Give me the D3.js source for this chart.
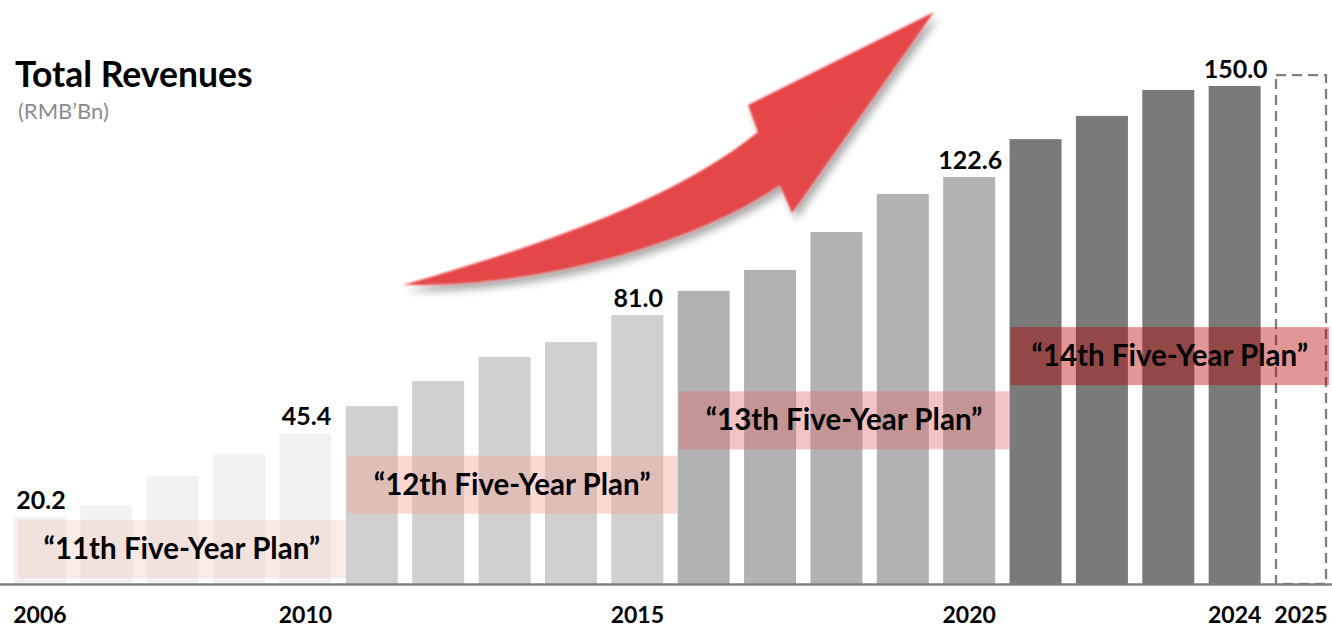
<!DOCTYPE html>
<html>
<head>
<meta charset="utf-8">
<script src="https://cdn.jsdelivr.net/npm/d3@7"></script>
<style>
  html, body { margin: 0; padding: 0; background: #ffffff; }
  svg { display: block; }
  text { font-family: Lato, "Open Sans", "DejaVu Sans", sans-serif; }
</style>
</head>
<body>
<svg id="chart" width="1332" height="635"></svg>
<script>
// Total revenues by year (RMB bn)
const years = ["2006","2007","2008","2009","2010","2011","2012","2013","2014","2015",
               "2016","2017","2018","2019","2020","2021","2022","2023","2024","2025"];
const revenues = [20.2, 23.8, 32.5, 39.2, 45.4, 53.6, 61.1, 68.4, 72.9, 81.0,
                  88.3, 94.6, 106.0, 117.5, 122.6, 134.0, 141.0, 148.8, 150.0];
const outlookYear = "2025";
const outlookValue = 153.3;
const labelledYears = ["2006","2010","2015","2020","2024"];
const tickYears = ["2006","2010","2015","2020","2024","2025"];

// Five-year plan periods
const planNames = ["“11th Five-Year Plan”","“12th Five-Year Plan”","“13th Five-Year Plan”","“14th Five-Year Plan”"];
const planFirstYear = ["2006","2011","2016","2021"];
const planLastYear = ["2010","2015","2020","2025"];
const barColors = ["#f2f2f2","#d0d0d0","#b2b2b2","#7a7a7a"];
const planColors = ["rgb(240,190,175)","rgb(245,168,152)","rgb(224,104,104)","rgb(187,0,0)"];
const planOpacity = [0.30, 0.43, 0.39, 0.41];

const W = 1332, H = 635;
const baseY = 584;
const svg = d3.select("#chart");

const x = d3.scaleBand().domain(years).range([6.8, 1334.2]).paddingInner(0.2165).paddingOuter(0.108);
const y = d3.scaleLinear().domain([0, 150]).range([baseY, 86]);

const periodOf = yr => planFirstYear.filter(s => +s <= +yr).length - 1;

// ---- filters for the growth arrow ----
const defs = svg.append("defs");
const f = defs.append("filter").attr("id","arrowFx").attr("x","-10%").attr("y","-20%").attr("width","130%").attr("height","150%");
f.append("feGaussianBlur").attr("in","SourceAlpha").attr("stdDeviation",4).attr("result","sb");
f.append("feOffset").attr("in","sb").attr("dx",4).attr("dy",6).attr("result","so");
f.append("feComponentTransfer").attr("in","so").attr("result","sf")
  .append("feFuncA").attr("type","linear").attr("slope",0.35);
f.append("feGaussianBlur").attr("in","SourceGraphic").attr("stdDeviation",0.8).attr("result","soft");
const mg = f.append("feMerge");
mg.append("feMergeNode").attr("in","sf");
mg.append("feMergeNode").attr("in","soft");

const grad = defs.append("linearGradient").attr("id","arrowGrad")
  .attr("gradientUnits","userSpaceOnUse").attr("x1",560).attr("y1",160).attr("x2",600).attr("y2",240);
grad.append("stop").attr("offset","0%").attr("stop-color","#f86464");
grad.append("stop").attr("offset","18%").attr("stop-color","#e6474a");
grad.append("stop").attr("offset","100%").attr("stop-color","#e4464a");

// ---- growth arrow ----
const arrow = d3.path();
arrow.moveTo(403, 285);
arrow.bezierCurveTo(560, 240, 680, 195, 758, 132);
arrow.lineTo(748, 105);
arrow.lineTo(934, 12);
arrow.lineTo(792, 213);
arrow.lineTo(780, 185);
arrow.bezierCurveTo(700, 240, 550, 287, 403, 285);
arrow.closePath();
svg.append("path").attr("d", arrow.toString())
  .attr("fill","url(#arrowGrad)").attr("filter","url(#arrowFx)");

// ---- title ----
svg.append("text").attr("x",15).attr("y",87).attr("font-size",35.5).attr("font-weight",700)
  .attr("fill","#000").text("Total Revenues");
svg.append("text").attr("x",18).attr("y",119).attr("font-size",22)
  .attr("fill","#8c8c8c").text("(RMB’Bn)");

// ---- bars ----
const barData = revenues.map((v, i) => ({year: years[i], value: v}));
svg.append("g").selectAll("rect").data(barData).join("rect")
  .attr("x", d => x(d.year))
  .attr("y", d => y(d.value))
  .attr("width", x.bandwidth())
  .attr("height", d => baseY - y(d.value))
  .attr("fill", d => barColors[periodOf(d.year)]);

// outlook bar (dashed outline)
svg.append("rect")
  .attr("x", x(outlookYear) + 1)
  .attr("y", y(outlookValue))
  .attr("width", x.bandwidth() - 2)
  .attr("height", baseY - y(outlookValue))
  .attr("fill","none").attr("stroke","#7f7f7f").attr("stroke-width",2.3)
  .attr("stroke-dasharray","10,6");

// ---- value labels ----
svg.append("g").selectAll("text").data(barData.filter(d => labelledYears.includes(d.year))).join("text")
  .attr("x", d => x(d.year) + x.bandwidth() / 2 + 1)
  .attr("y", d => y(d.value) - 8)
  .attr("text-anchor","middle").attr("font-size",25).attr("font-weight",700).attr("fill","#000")
  .text(d => d.value.toFixed(1));

// ---- five-year plan bands ----
const bandH = 58, bandStep = 64.3;
const planData = planNames.map((name, i) => {
  const x0 = x(planFirstYear[i]) + (i === 0 ? 4 : 1);
  const x1 = Math.min(x(planLastYear[i]) + x.step(), W - 3);
  const bottom = baseY - 6 - i * bandStep;
  return {name, i, x0, x1, top: bottom - bandH};
});
const pg = svg.append("g").selectAll("g").data(planData).join("g");
pg.append("rect")
  .attr("x", d => d.x0).attr("y", d => d.top)
  .attr("width", d => d.x1 - d.x0).attr("height", bandH)
  .attr("fill", d => planColors[d.i]).attr("fill-opacity", d => planOpacity[d.i]);
pg.append("text")
  .attr("x", d => (d.x0 + d.x1) / 2)
  .attr("y", d => d.top + bandH / 2 + 10)
  .attr("text-anchor","middle").attr("font-size",29.5).attr("font-weight",700).attr("fill","#000")
  .text(d => d.name);

// ---- axis ----
const axis = d3.axisBottom(x).tickValues(tickYears).tickSize(0).tickPadding(0);
const ag = svg.append("g").attr("transform", `translate(0,${baseY})`).call(axis);
ag.select(".domain").remove();
ag.selectAll("text").attr("dy", null).attr("y", 39)
  .attr("font-size",23).attr("font-weight",700).attr("fill","#000")
  .attr("font-family","Lato, 'Open Sans', sans-serif");
svg.append("line").attr("x1",0).attr("x2",W).attr("y1",baseY + 0.5).attr("y2",baseY + 0.5)
  .attr("stroke","#808080").attr("stroke-width",2.5);
</script>
</body>
</html>
